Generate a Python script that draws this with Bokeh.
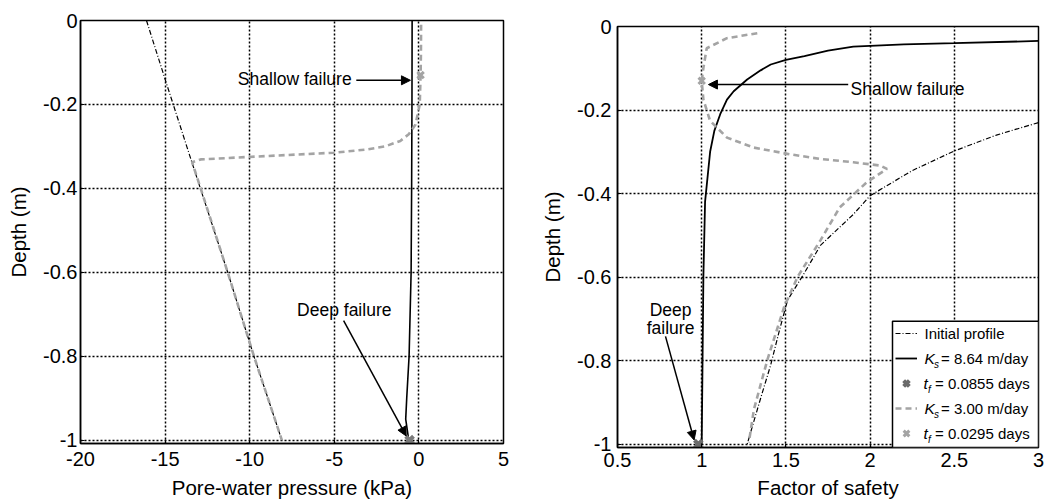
from bokeh.plotting import figure
from bokeh.layouts import row, column
from bokeh.models import (Range1d, Label, Arrow, NormalHead, Legend, LegendItem,
                          FixedTicker, BoxAnnotation)
from bokeh.embed import file_html
from bokeh.resources import INLINE

FONT = "Liberation Sans"
GRAY = "#a4a4a4"

# ---- pore-water pressure profiles (kPa) against depth (m) ----
init_depth = [0.0, -0.14, -0.34, -0.6, -0.8, -1.0]
init_pwp = [-16.1, -15.0, -13.4, -11.3, -9.75, -8.1]

fast_depth = [0.0, -0.2, -0.4, -0.6, -0.8, -0.9, -0.95, -1.0]
fast_pwp = [-0.40, -0.41, -0.43, -0.46, -0.58, -0.72, -0.78, -0.6]

slow_depth = [-0.01, -0.08, -0.13, -0.2, -0.248, -0.271, -0.287, -0.3, -0.307,
              -0.315, -0.323, -0.331, -0.338, -0.4, -0.6, -0.8, -1.0]
slow_pwp = [0.13, 0.12, 0.1, 0.05, -0.2, -0.6, -1.1, -2.0, -3.0,
            -5.0, -9.0, -12.9, -13.4, -12.9, -11.3, -9.75, -8.1]

# failure points (depth, pwp)
fail_slow_pwp = [0.1]
fail_slow_depth = [-0.13]
fail_fast_pwp = [-0.55]
fail_fast_depth = [-1.0]

# ---- factor of safety profiles against depth (m) ----
fs_init_depth = [-0.23, -0.26, -0.298, -0.345, -0.405, -0.45, -0.524, -0.59,
                 -0.655, -0.73, -0.81, -0.89, -1.0]
fs_init = [3.0, 2.75, 2.5, 2.25, 2.0, 1.9, 1.705, 1.61, 1.51, 1.46, 1.41, 1.35, 1.27]

fs_fast_depth = [-1.0, -0.8, -0.6, -0.42, -0.3, -0.25, -0.21, -0.175, -0.155,
                 -0.127, -0.105, -0.091, -0.080, -0.071, -0.058, -0.048, -0.043,
                 -0.040, -0.034]
fs_fast = [1.0, 1.005, 1.01, 1.02, 1.05, 1.075, 1.11, 1.15, 1.19, 1.27, 1.35,
           1.41, 1.50, 1.61, 1.75, 1.90, 2.2, 2.5, 3.05]

fs_slow_depth = [-0.016, -0.028, -0.052, -0.099, -0.13, -0.175, -0.226, -0.266,
                 -0.29, -0.305, -0.317, -0.325, -0.333, -0.341, -0.373, -0.433,
                 -0.512, -0.599, -0.671, -0.798, -0.917, -0.996]
fs_slow = [1.33, 1.15, 1.03, 1.01, 1.0, 1.01, 1.05, 1.15, 1.31, 1.51, 1.70,
           1.90, 2.06, 2.10, 1.98, 1.82, 1.705, 1.57, 1.49, 1.39, 1.31, 1.28]

fs_fail_slow = [1.0]
fs_fail_slow_depth = [-0.13]
fs_fail_fast = [0.98]
fs_fail_fast_depth = [-1.0]

# ---- ticks ----
depth_ticks = [-1.0, -0.8, -0.6, -0.4, -0.2, 0.0]
depth_tick_labels = ["-1", "-0.8", "-0.6", "-0.4", "-0.2", "0"]
pwp_ticks = [-20, -15, -10, -5, 0, 5]
pwp_tick_labels = ["-20", "-15", "-10", "-5", "0", "5"]
fs_ticks = [0.5, 1.0, 1.5, 2.0, 2.5, 3.0]
fs_tick_labels = ["0.5", "1", "1.5", "2", "2.5", "3"]

Y_LO = -1.008


def style(p, xt, xl, xlabel, ylabel):
    p.xaxis.ticker = FixedTicker(ticks=xt)
    p.xaxis.major_label_overrides = dict(zip(xt, xl))
    p.yaxis.ticker = FixedTicker(ticks=depth_ticks)
    p.yaxis.major_label_overrides = dict(zip(depth_ticks, depth_tick_labels))
    p.xaxis.axis_label = xlabel
    p.yaxis.axis_label = ylabel
    for ax in p.axis:
        ax.axis_label_text_font = FONT
        ax.axis_label_text_font_style = "normal"
        ax.axis_label_text_font_size = "20.5px"
        ax.axis_label_text_color = "black"
        ax.major_label_text_font = FONT
        ax.major_label_text_font_size = "20px"
        ax.major_label_text_color = "black"
        ax.major_tick_in = 4
        ax.major_tick_out = 0
        ax.minor_tick_in = 0
        ax.minor_tick_out = 0
        ax.axis_line_color = "black"
        ax.axis_line_width = 1.5
        ax.major_tick_line_color = "black"
    for g in p.grid:
        g.grid_line_color = "black"
        g.grid_line_dash = "2 2"
        g.grid_line_width = 1.5
    p.outline_line_color = "black"
    p.outline_line_width = 1.5
    p.outline_line_alpha = 1.0
    p.background_fill_color = "white"
    p.border_fill_color = "white"


def txt(p, x, y, text, size="17.5px", align="left", style="normal"):
    p.add_layout(Label(x=x, y=y, text=text, text_font=FONT, text_font_size=size,
                       text_font_style=style, text_baseline="middle",
                       text_align=align, text_color="black", level="overlay"))


def pointer(p, x0, y0, x1, y1):
    p.add_layout(Arrow(end=NormalHead(size=9, fill_color="black", line_color="black"),
                       x_start=x0, y_start=y0, x_end=x1, y_end=y1,
                       line_color="black", line_width=1.5))


# ================= left panel: pore-water pressure =================
p1 = figure(width=520, height=502, output_backend="svg", toolbar_location=None,
            x_range=Range1d(-20, 5), y_range=Range1d(Y_LO, 0),
            min_border_left=80, min_border_right=17, min_border_top=20,
            min_border_bottom=59)
style(p1, pwp_ticks, pwp_tick_labels, "Pore-water pressure (kPa)", "Depth (m)")
p1.xaxis.major_label_standoff = 8
p1.xaxis.axis_label_standoff = 7
p1.yaxis.major_label_standoff = 3
p1.yaxis.axis_label_standoff = 10

p1.line(init_pwp, init_depth, line_color="black", line_width=1.2, line_dash="5 2 1 2")
p1.line(fast_pwp, fast_depth, line_color="black", line_width=1.6)
p1.line(slow_pwp, slow_depth, line_color=GRAY, line_width=2.6, line_dash="6 4")
p1.scatter(fail_fast_pwp, fail_fast_depth, marker="x", size=11, line_width=4,
           line_color="#7a7a7a")
p1.scatter(fail_slow_pwp, fail_slow_depth, marker="x", size=9, line_width=3,
           line_color=GRAY)

txt(p1, -10.7, -0.14, "Shallow failure")
pointer(p1, -3.7, -0.1425, -0.5, -0.1425)
txt(p1, -7.2, -0.69, "Deep failure")
pointer(p1, -4.45, -0.715, -0.75, -0.99)

# ================= right panel: factor of safety =================
p2 = figure(width=527, height=502, output_backend="svg", toolbar_location=None,
            x_range=Range1d(0.5, 3), y_range=Range1d(Y_LO, 0),
            min_border_left=97, min_border_right=9, min_border_top=26,
            min_border_bottom=55)
style(p2, fs_ticks, fs_tick_labels, "Factor of safety", "Depth (m)")
p2.xaxis.major_label_standoff = 5
p2.xaxis.axis_label_standoff = 6
p2.yaxis.major_label_standoff = 6
p2.yaxis.axis_label_standoff = 10

r_init = p2.line(fs_init, fs_init_depth, line_color="black", line_width=1.2,
                 line_dash="5 2 1 2")
r_fast = p2.line(fs_fast, fs_fast_depth, line_color="black", line_width=1.8)
r_slow = p2.line(fs_slow, fs_slow_depth, line_color=GRAY, line_width=2.6,
                 line_dash="6 4")
r_ffast = p2.scatter(fs_fail_fast, fs_fail_fast_depth, marker="x", size=11,
                     line_width=4, line_color="#6a6a6a")
r_fslow = p2.scatter(fs_fail_slow, fs_fail_slow_depth, marker="x", size=9,
                     line_width=3, line_color=GRAY)

txt(p2, 1.884, -0.15, "Shallow failure")
pointer(p2, 1.87, -0.139, 1.04, -0.139)
txt(p2, 0.815, -0.679, "Deep", align="center")
txt(p2, 0.815, -0.721, "failure", align="center")
pointer(p2, 0.785, -0.742, 0.955, -0.99)

# legend frame: opaque white box with a black border; the Legend itself only
# contributes the line/marker samples
p2.add_layout(BoxAnnotation(left=2.133, right=3.0, bottom=Y_LO, top=-0.706,
                            fill_color="white", fill_alpha=1.0,
                            line_color="black", line_width=1.5, line_alpha=1.0))
legend = Legend(items=[LegendItem(label=" ", renderers=[r]) for r in
                       (r_init, r_fast, r_ffast, r_slow, r_fslow)],
                location=(275, 1), padding=3, spacing=5, glyph_height=20,
                glyph_width=22, label_standoff=5, label_width=110,
                label_text_font_size="15px", border_line_alpha=0.0,
                background_fill_alpha=0.0, margin=0)
p2.add_layout(legend)

# legend texts (italic symbols with subscripts), one row per legend entry
rows_y = [-0.735, -0.795, -0.855, -0.915, -0.974]
TX = 2.323          # left edge of the legend texts
PX = 1 / 168.4      # one screen pixel along the factor-of-safety axis
SUB = 0.0144        # subscript drop

txt(p2, TX, rows_y[0], "Initial profile", size="15px")
for yy, val in ((rows_y[1], "= 8.64 m/day"), (rows_y[3], "= 3.00 m/day")):
    txt(p2, TX, yy, "K", size="15.5px", style="italic")
    txt(p2, TX + 9.5 * PX, yy - SUB, "s", size="10px", style="italic")
    txt(p2, TX + 16.5 * PX, yy, val, size="15px")
for yy, val in ((rows_y[2], "= 0.0855 days"), (rows_y[4], "= 0.0295 days")):
    txt(p2, TX - 1 * PX, yy, "t", size="15.5px", style="italic")
    txt(p2, TX + 3.5 * PX, yy - SUB, "f", size="10px", style="italic")
    txt(p2, TX + 10.5 * PX, yy, val, size="15px")

# each panel in its own column so the two frames keep their own margins
layout = row(column(p1), column(p2))
open("out.html", "w").write(file_html(layout, INLINE))
